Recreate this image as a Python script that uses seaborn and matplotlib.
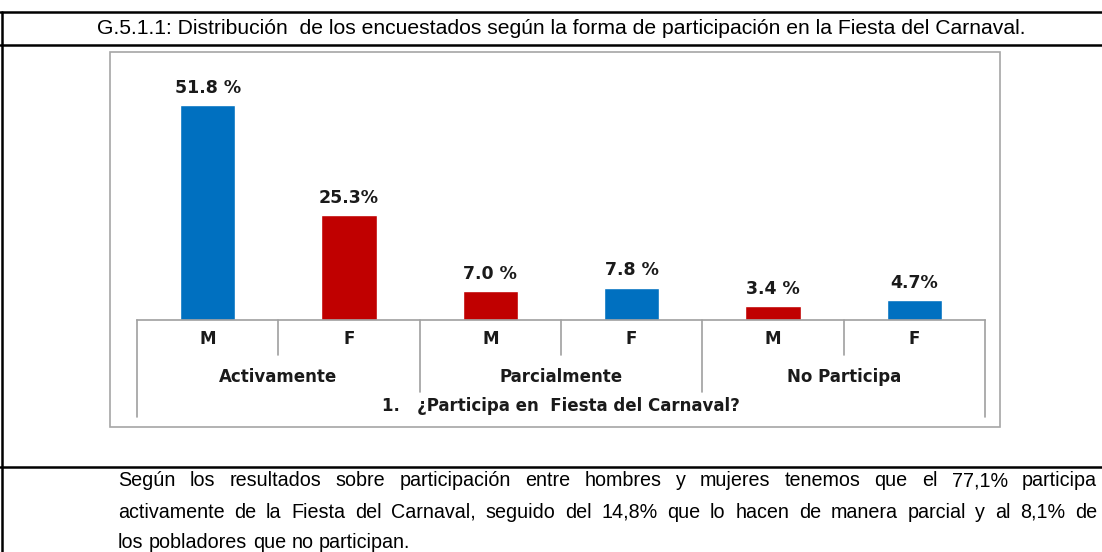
import numpy as np
import pandas as pd
import matplotlib
matplotlib.use("Agg")
import matplotlib.pyplot as plt
import seaborn as sns
from matplotlib.transforms import blended_transform_factory
from matplotlib.patches import Rectangle
from matplotlib.lines import Line2D

# Datos del gráfico
grupos = ["Activamente", "Parcialmente", "No Participa"]
sexos = ["M", "F", "M", "F", "M", "F"]
valores = [51.8, 25.3, 7.0, 7.8, 3.4, 4.7]
etiquetas = ["51.8 %", "25.3%", "7.0 %", "7.8 %", "3.4 %", "4.7%"]
colores = ["#0070C0", "#C00000", "#C00000", "#0070C0", "#C00000", "#0070C0"]

titulo = "G.5.1.1: Distribución  de los encuestados según la forma de participación en la Fiesta del Carnaval."
eje_titulo = "1.   ¿Participa en  Fiesta del Carnaval?"
texto = [
    "Según los resultados sobre participación entre hombres y mujeres tenemos que el 77,1% participa",
    "activamente de la Fiesta del Carnaval, seguido del 14,8% que lo hacen de manera parcial y al 8,1% de",
    "los pobladores que no participan.",
]

df = pd.DataFrame({"grupo": np.repeat(grupos, 2), "sexo": sexos, "valor": valores})
df["barra"] = df["grupo"] + " " + df["sexo"]

sns.set_theme(style="white")
plt.rcParams["font.family"] = ["Liberation Sans", "DejaVu Sans"]

W, H = 1102, 552
fig = plt.figure(figsize=(W / 100, H / 100), dpi=100)


def fx(px):
    return px / W


def fy(py):
    return 1 - py / H


# Marco de la tabla
negro = dict(color="black", lw=1.8, transform=fig.transFigure)
for yy in [12, 45, 467]:
    fig.add_artist(Line2D([0, 1], [fy(yy), fy(yy)], **negro))
fig.add_artist(Line2D([fx(2), fx(2)], [fy(12), 0], **negro))

# Recuadro del gráfico
fig.add_artist(Rectangle((fx(110), fy(427)), fx(1000) - fx(110), (427 - 52) / H,
                         transform=fig.transFigure, fill=False,
                         edgecolor="#a6a6a6", lw=1.2))

ax = fig.add_axes([fx(137), fy(320), fx(985) - fx(137), (320 - 71) / H])
sns.barplot(data=df, x="barra", y="valor", hue="barra", palette=colores,
            legend=False, width=0.39, saturation=1, ax=ax)
ax.set_ylim(0, 60)
ax.set_xlim(-0.5, 5.5)
ax.set_xticks([])
ax.set_yticks([])
ax.set_xlabel("")
ax.set_ylabel("")
ax.patch.set_alpha(0)
for s in ["top", "right", "left"]:
    ax.spines[s].set_visible(False)
ax.spines["bottom"].set_color("#a0a0a0")
ax.spines["bottom"].set_linewidth(1.2)

for i, (v, t) in enumerate(zip(valores, etiquetas)):
    ax.annotate(t, (i, v), xytext=(0, 6), textcoords="offset points",
                ha="center", va="bottom", fontsize=12.5, fontweight="bold",
                family="DejaVu Sans", color="#1a1a1a")

# Eje categórico de dos niveles
tr = blended_transform_factory(ax.transData, fig.transFigure)
gris = dict(color="#a0a0a0", lw=1.2, transform=tr, clip_on=False)
for x in [0.5, 2.5, 4.5]:
    ax.add_line(Line2D([x, x], [fy(320), fy(355)], **gris))
for x in [1.5, 3.5]:
    ax.add_line(Line2D([x, x], [fy(320), fy(392)], **gris))
for x in [-0.5, 5.5]:
    ax.add_line(Line2D([x, x], [fy(320), fy(417)], **gris))

fuente_eje = dict(ha="center", va="center", fontsize=12, fontweight="bold",
                  family="DejaVu Sans", color="#1a1a1a", transform=tr)
for i, s in enumerate(sexos):
    ax.text(i, fy(339), s, **fuente_eje)
for k, g in enumerate(grupos):
    ax.text(2 * k + 0.5, fy(377), g, **fuente_eje)
ax.text(2.5, fy(406), eje_titulo, **fuente_eje)

# Título
fig.text(fx(561), fy(29), titulo, ha="center", va="center", fontsize=15.2,
         color="black")

# Texto justificado
renderer = fig.canvas.get_renderer()
x0, x1 = 118, 1097
tam = 14.2
prueba = fig.text(0, 0, texto[1], fontsize=tam)
ancho = prueba.get_window_extent(renderer).width
prueba.remove()
if ancho > (x1 - x0):
    tam = tam * (x1 - x0) / ancho * 0.99

for n, (linea, yy) in enumerate(zip(texto, [481, 512, 542])):
    palabras = linea.split(" ")
    objs = [fig.text(0, fy(yy), p, ha="left", va="center", fontsize=tam,
                     color="black") for p in palabras]
    anchos = [o.get_window_extent(renderer).width for o in objs]
    if n < len(texto) - 1:
        hueco = (x1 - x0 - sum(anchos)) / (len(palabras) - 1)
    else:
        hueco = renderer.points_to_pixels(tam) * 0.278
    x = x0
    for o, a in zip(objs, anchos):
        o.set_x(fx(x))
        x += a + hueco

fig.savefig("out.png", dpi=100)
